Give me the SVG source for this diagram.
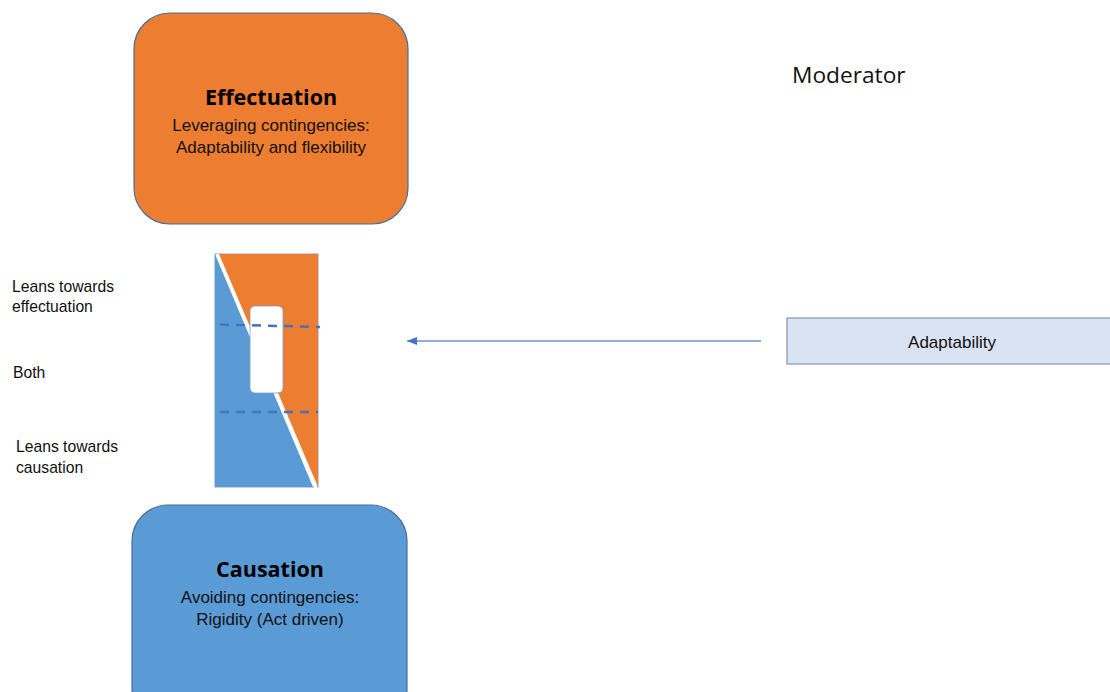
<svg xmlns="http://www.w3.org/2000/svg" width="1110" height="692" viewBox="0 0 1110 692">
  <defs>
    <style>
      .box { stroke: #4a6f97; stroke-width: 1.2; }
      .title { font-family: "Open Sans", "Liberation Sans", sans-serif; font-weight: bold; font-size: 21.5px; fill: #000; text-anchor: middle; }
      .sub { font-family: "Liberation Sans", Arial, sans-serif; font-size: 17px; fill: #111; text-anchor: middle; }
      .label { font-family: "Liberation Sans", Arial, sans-serif; font-size: 15.7px; fill: #111; }
      .dash { stroke: #4472c4; stroke-width: 2.5; stroke-dasharray: 9 7; fill: none; }
    </style>
    <marker id="arrowhead" markerWidth="10" markerHeight="9" refX="10" refY="4.5" orient="auto" markerUnits="userSpaceOnUse">
      <path d="M0,0.5 L10,4.5 L0,8.5 Z" fill="#4472c4"/>
    </marker>
  </defs>
  <rect width="1110" height="692" fill="#fff"/>

  <g id="effectuation">
    <rect class="box" x="134" y="13" width="274" height="211" rx="36" fill="#ed7d31"/>
    <text class="title" x="271" y="105">Effectuation</text>
    <text class="sub" x="271" y="131">Leveraging contingencies:</text>
    <text class="sub" x="271" y="153">Adaptability and flexibility</text>
  </g>

  <g id="causation">
    <rect class="box" x="132" y="505" width="275" height="220" rx="36" fill="#5b9bd5"/>
    <text class="title" x="270" y="577">Causation</text>
    <text class="sub" x="270" y="603">Avoiding contingencies:</text>
    <text class="sub" x="270" y="625">Rigidity (Act driven)</text>
  </g>

  <g id="spectrum">
    <rect x="215" y="254" width="103" height="233" fill="none" stroke="#7f9fcf" stroke-width="1"/>
    <polygon points="215,254 215,487 313,487" fill="#5b9bd5"/>
    <polygon points="219,254 318,254 318,487" fill="#ed7d31"/>
    <line x1="217" y1="254" x2="316" y2="488" stroke="#fff" stroke-width="3"/>
    <rect x="250" y="306" width="33" height="87" rx="5" fill="#fff" stroke="#7f9fcf" stroke-width="0.8"/>
    <path class="dash" d="M220,324.5 L320,327"/>
    <path class="dash" d="M220,412 L318,412"/>
  </g>

  <g id="scale-labels">
    <text class="label" x="12" y="292">Leans towards</text>
    <text class="label" x="12" y="312">effectuation</text>
    <text class="label" x="13" y="378">Both</text>
    <text class="label" x="16" y="452" font-size="16.5">Leans towards</text>
    <text class="label" x="16" y="473" font-size="16.5">causation</text>
  </g>

  <g id="moderator">
    <text x="792" y="83" font-family="'Open Sans', 'Liberation Sans', sans-serif" font-size="22.7" fill="#111">Moderator</text>
  </g>

  <g id="adaptability">
    <rect x="787" y="318" width="330" height="46" fill="#dae3f3" stroke="#8497b0" stroke-width="1.2"/>
    <text x="952" y="348" font-family="'Liberation Sans', Arial, sans-serif" font-size="17" fill="#111" text-anchor="middle">Adaptability</text>
  </g>

  <g id="connectors">
    <line x1="761" y1="341" x2="407" y2="341" stroke="#6f95d2" stroke-width="1.5" marker-end="url(#arrowhead)"/>
  </g>
</svg>
